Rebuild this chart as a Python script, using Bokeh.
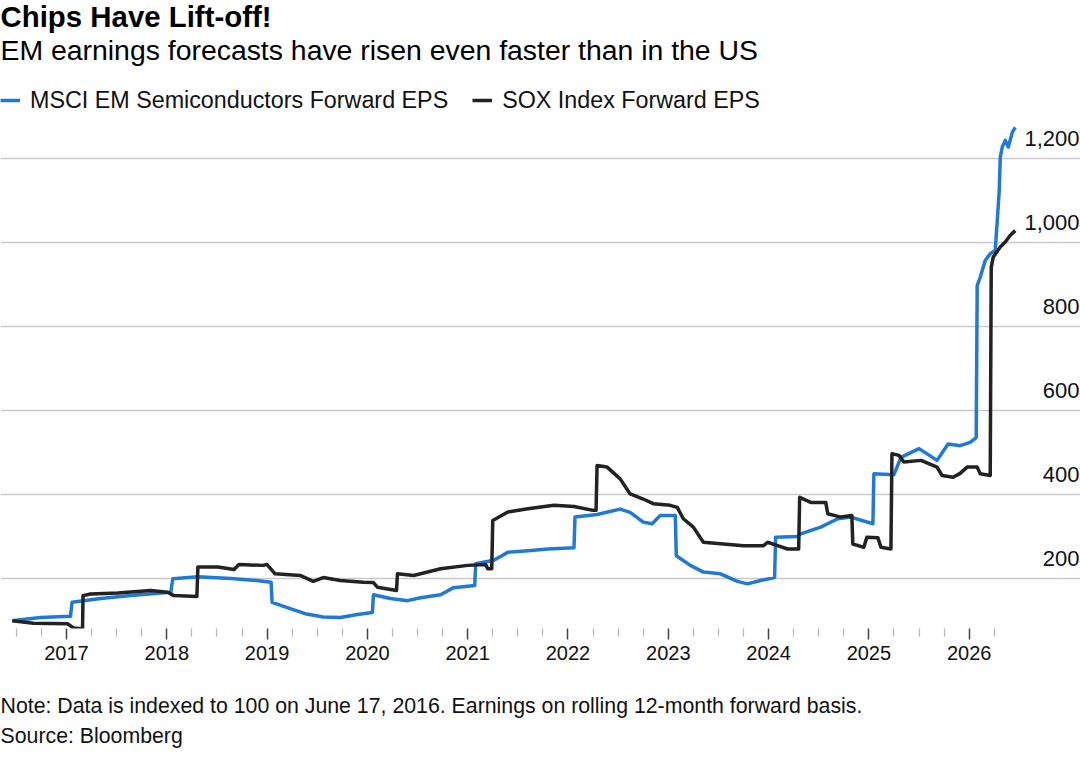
from bokeh.plotting import figure
from bokeh.models import FixedTicker, Legend, LegendItem, Range1d, Grid, ColumnDataSource, Title
from bokeh.core.properties import value
from bokeh.embed import file_html
from bokeh.resources import INLINE

# ---- data (decimal years, index level; 100 = June 17, 2016) ----
em_years = [2016.46, 2016.74, 2017.04, 2017.055, 2017.34, 2017.64, 2018.04, 2018.06, 2018.31, 2018.64,
            2018.89, 2019.04, 2019.05, 2019.23, 2019.38, 2019.56, 2019.73, 2019.90, 2020.05, 2020.06,
            2020.23, 2020.40, 2020.53, 2020.73, 2020.86, 2021.07, 2021.08, 2021.26, 2021.40, 2021.60,
            2021.80, 2022.06, 2022.07, 2022.29, 2022.52, 2022.62, 2022.75, 2022.84, 2022.92, 2023.07,
            2023.08, 2023.22, 2023.35, 2023.52, 2023.69, 2023.79, 2023.92, 2024.06, 2024.07, 2024.29,
            2024.32, 2024.52, 2024.69, 2024.82, 2025.04, 2025.05, 2025.25, 2025.32, 2025.50, 2025.68,
            2025.79, 2025.91, 2026.01, 2026.07, 2026.08, 2026.11, 2026.14, 2026.16, 2026.21, 2026.26,
            2026.28, 2026.30, 2026.31, 2026.33, 2026.36, 2026.39, 2026.43, 2026.46]
em_values = [100, 108, 111, 144, 153, 160, 168, 200, 205, 201,
             196, 192, 144, 129, 117, 109, 108, 115, 120, 162,
             153, 148, 155, 162, 179, 184, 236, 244, 263, 267,
             271, 274, 347, 353, 366, 358, 335, 331, 351, 351,
             255, 232, 216, 212, 194, 188, 196, 203, 299, 301,
             307, 323, 343, 347, 331, 450, 448, 489, 510, 482,
             521, 517, 525, 536, 898, 918, 942, 958, 974, 982,
             1053, 1125, 1204, 1228, 1244, 1228, 1263, 1275]

sox_years = [2016.46, 2016.67, 2017.01, 2017.07, 2017.16, 2017.165, 2017.24, 2017.51, 2017.84, 2018.01,
             2018.07, 2018.30, 2018.31, 2018.51, 2018.67, 2018.72, 2018.96, 2019.00, 2019.08, 2019.33,
             2019.46, 2019.56, 2019.73, 2019.96, 2020.06, 2020.10, 2020.29, 2020.30, 2020.46, 2020.73,
             2021.00, 2021.18, 2021.20, 2021.24, 2021.25, 2021.40, 2021.60, 2021.86, 2022.06, 2022.25,
             2022.28, 2022.29, 2022.39, 2022.52, 2022.62, 2022.75, 2022.85, 2023.02, 2023.09, 2023.15,
             2023.25, 2023.35, 2023.55, 2023.75, 2023.95, 2023.99, 2024.09, 2024.19, 2024.30, 2024.31,
             2024.42, 2024.57, 2024.59, 2024.72, 2024.83, 2024.84, 2024.95, 2024.98, 2025.09, 2025.12,
             2025.22, 2025.23, 2025.30, 2025.35, 2025.52, 2025.68, 2025.73, 2025.84, 2025.91, 2025.98,
             2026.08, 2026.11, 2026.21, 2026.22, 2026.24, 2026.31, 2026.36, 2026.41, 2026.46]
sox_values = [100, 94, 93, 83, 81, 160, 164, 166, 172, 168,
              160, 158, 228, 228, 222, 234, 232, 234, 212, 208,
              194, 203, 196, 192, 191, 180, 172, 212, 208, 224,
              232, 234, 224, 224, 339, 359, 367, 375, 372, 363,
              363, 470, 466, 438, 402, 390, 379, 375, 370, 343,
              323, 287, 283, 279, 279, 287, 279, 271, 271, 394,
              382, 382, 355, 347, 351, 283, 275, 299, 298, 275,
              271, 498, 494, 478, 482, 466, 446, 442, 451, 466,
              466, 450, 446, 942, 966, 990, 1002, 1018, 1029]

y_ticks = [200, 400, 600, 800, 1000, 1200]
y_tick_labels = ["200", "400", "600", "800", "1,000", "1,200"]
year_ticks = list(range(2017, 2027))
year_labels = [str(y) for y in year_ticks]
quarter_ticks = [y + q / 4 for y in range(2016, 2027) for q in (1, 2, 3)
                 if 2016.5 <= y + q / 4 <= 2026.25]

series_names = ["MSCI EM Semiconductors Forward EPS", "SOX Index Forward EPS"]
series_colors = ["#2179d6", "#222222"]

title_text = "Chips Have Lift-off!"
subtitle_text = "EM earnings forecasts have risen even faster than in the US"
note_text = "Note: Data is indexed to 100 on June 17, 2016. Earnings on rolling 12-month forward basis."
source_text = "Source: Bloomberg"

FONT = "Liberation Sans"

x_start, x_end = 2016.342, 2027.11
y_start, y_end = 81.7, 1386.5

p = figure(width=1080, height=779, output_backend="svg", toolbar_location=None, title=None,
           x_range=Range1d(x_start, x_end), y_range=Range1d(y_start, y_end),
           y_axis_location=None, min_border_left=0, min_border_right=0,
           min_border_top=80, min_border_bottom=151, background_fill_color="white",
           border_fill_color="white")
p.outline_line_color = None
p.xgrid.visible = False

grid = Grid(dimension=1, ticker=FixedTicker(ticks=y_ticks),
            grid_line_color="#c9c9c9", grid_line_width=1.3)
p.add_layout(grid)

# x axis
ax = p.xaxis[0]
ax.ticker = FixedTicker(ticks=year_ticks, minor_ticks=quarter_ticks)
ax.major_label_overrides = {y: lab for y, lab in zip(year_ticks, year_labels)}
ax.axis_line_color = None
ax.major_tick_in = 0
ax.major_tick_out = 11
ax.minor_tick_in = 0
ax.minor_tick_out = 8
ax.major_tick_line_color = "#444444"
ax.major_tick_line_width = 1.5
ax.minor_tick_line_color = "#b5b5b5"
ax.minor_tick_line_width = 1.2
ax.major_label_text_font = FONT
ax.major_label_text_font_size = "20px"
ax.major_label_text_color = "#111111"
ax.major_label_standoff = 6

# series
r_em = p.line(em_years, em_values, line_color=series_colors[0], line_width=3.5, line_join="round")
r_sox = p.line(sox_years, sox_values, line_color=series_colors[1], line_width=3.5, line_join="round")

# y tick labels (right side, above gridlines)
ysrc = ColumnDataSource(dict(x=[x_end] * len(y_ticks), y=y_ticks, t=y_tick_labels))
p.text(x="x", y="y", text="t", source=ysrc, text_align="right", text_baseline="alphabetic",
       x_offset=-1, y_offset=-20, text_font=value(FONT), text_font_size="22px",
       text_color="#111111")

# legend inside the frame, top-left
legend = Legend(items=[LegendItem(label=series_names[0], renderers=[r_em]),
                       LegendItem(label=series_names[1], renderers=[r_sox])],
                orientation="horizontal", location="top_left",
                label_text_font=FONT, label_text_font_size="23.3px", label_text_color="#111111",
                glyph_width=20, glyph_height=40, label_height=40, label_standoff=10, spacing=24,
                padding=6, margin=0, border_line_color=None, background_fill_alpha=0)
p.add_layout(legend)

# titles (first added is nearest the frame)
p.add_layout(Title(text=subtitle_text, text_font=FONT, text_font_size="28.4px",
                   text_font_style="normal", text_color="#000000", align="left",
                   standoff=30, offset=0), "above")
p.add_layout(Title(text=title_text, text_font=FONT, text_font_size="29.4px",
                   text_font_style="bold", text_color="#000000", align="left",
                   standoff=-32, offset=0), "above")

# notes below the axis
p.add_layout(Title(text=note_text, text_font=FONT, text_font_size="21.3px",
                   text_font_style="normal", text_color="#111111", align="left",
                   standoff=59, offset=0), "below")
p.add_layout(Title(text=source_text, text_font=FONT, text_font_size="21.3px",
                   text_font_style="normal", text_color="#111111", align="left",
                   vertical_align="top", standoff=-48, offset=0), "below")

open("out.html", "w").write(file_html(p, INLINE))
